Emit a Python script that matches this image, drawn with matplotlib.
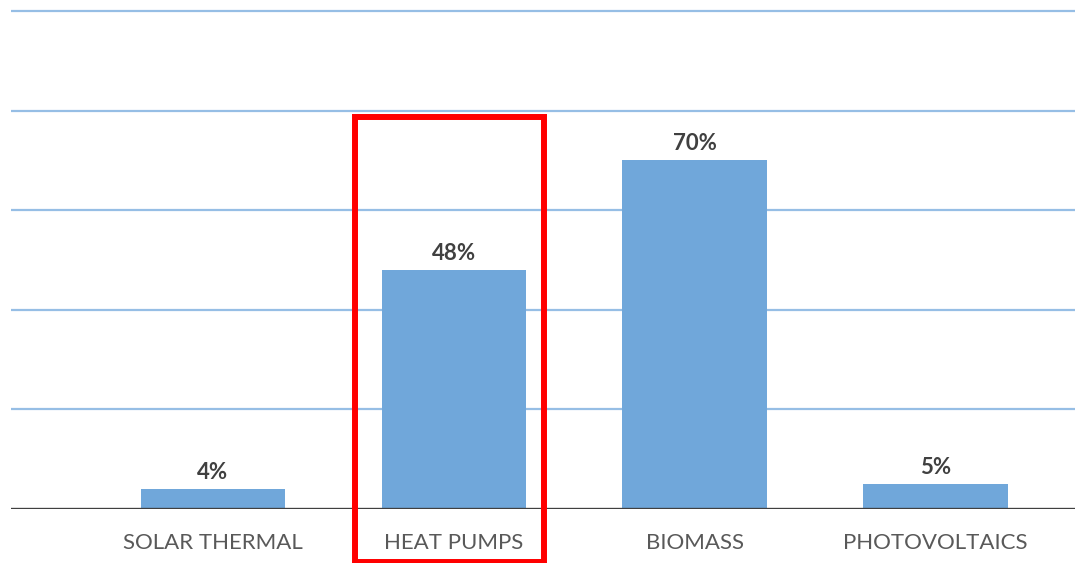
import matplotlib
matplotlib.use("Agg")
import matplotlib.pyplot as plt
from matplotlib.patches import Rectangle

### DATA ###
categories = ["SOLAR THERMAL", "HEAT PUMPS", "BIOMASS", "PHOTOVOLTAICS"]
shares = [4, 48, 70, 5]
grid_levels = [20, 40, 60, 80, 100]
highlight = "HEAT PUMPS"

### STYLE ###
BAR_COLOR = "#70A7DA"
GRID_COLOR = "#96BEE5"
AXIS_COLOR = "#404040"
LABEL_COLOR = "#595959"

plt.rcParams['font.family'] = ['Lato', 'DejaVu Sans']

fig = plt.figure(figsize=(10.77, 5.63), dpi=100)
# axes spans from the baseline up to just above the 100% gridline
ax = fig.add_axes([11 / 1077, 54 / 563, 1064 / 1077, 508 / 563])

x = list(range(len(categories)))
ax.bar(x, shares, width=0.6, color=BAR_COLOR, zorder=2)

for level in grid_levels:
    ax.axhline(level, color=GRID_COLOR, linewidth=1.6, zorder=1)
ax.axhline(0, color=AXIS_COLOR, linewidth=2.4, zorder=3)

for xi, v in zip(x, shares):
    ax.text(xi, v + 1.2, f"{v}%", ha="center", va="bottom",
            fontsize=16, fontweight="bold", color=AXIS_COLOR)

ax.set_xlim(-0.839, 3.58)
ax.set_ylim(0, 102)
ax.set_xticks(x)
ax.set_xticklabels(categories, fontsize=16, color=LABEL_COLOR)
ax.tick_params(axis="x", length=0, pad=17)
ax.set_yticks([])
for side in ax.spines.values():
    side.set_visible(False)

# red box around the highlighted category
hi = categories.index(highlight)
box = Rectangle((hi - 0.41, -10.6), 0.785, 89.3, fill=False,
                edgecolor="#FF0000", linewidth=4.3, clip_on=False, zorder=4)
ax.add_patch(box)

fig.savefig("out.png", dpi=100, facecolor="white")
